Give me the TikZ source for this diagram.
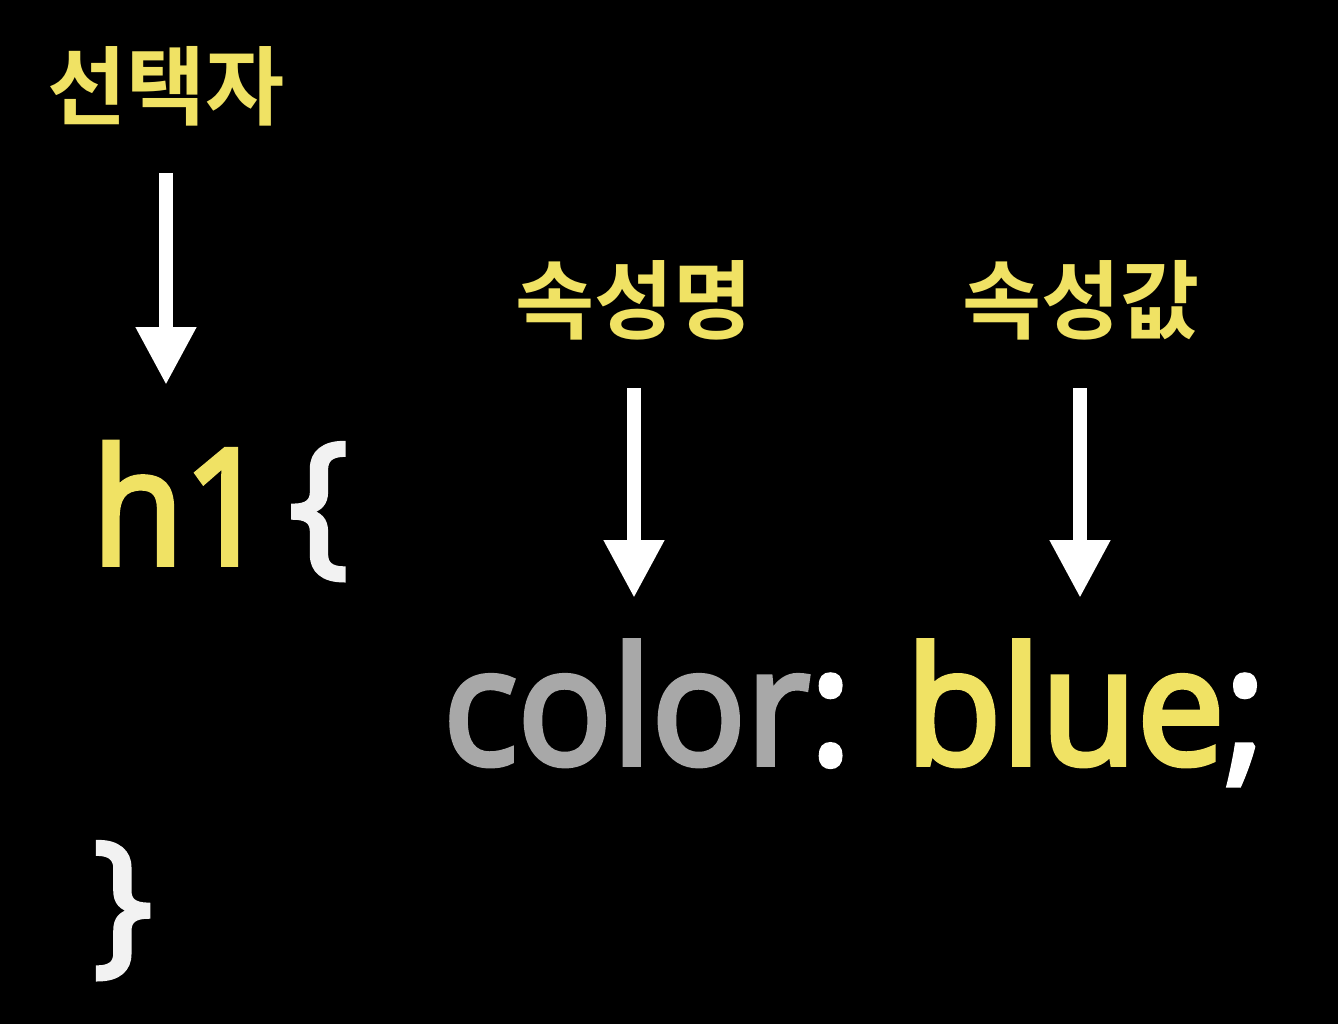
\documentclass[tikz,border=0pt]{standalone}
\usepackage{fontspec}
\usetikzlibrary{arrows.meta}
\newfontfamily\krfont{Noto Sans CJK KR}[BoldFont={* Bold}]
\newfontfamily\latsb{Open Sans}[FakeBold=3.5]
\definecolor{hlyellow}{RGB}{240,226,100}
\definecolor{codegray}{RGB}{168,168,168}
\definecolor{bracewhite}{RGB}{242,242,242}
\tikzset{
  krlabel/.style={text=hlyellow, inner sep=0pt, anchor=center, font=\krfont\bfseries\fontsize{86}{95}\selectfont},
  codetext/.style={inner sep=0pt, anchor=base west},
  downarrow/.style={draw=white, line width=14pt, -{Triangle[width=57pt,length=58pt]}}
}
\begin{document}
\begin{tikzpicture}[x=1pt,y=-1pt]
\fill[black] (0,0) rectangle (1338,1024);
\useasboundingbox (0,0) rectangle (1338,1024);
% labels
\node[krlabel] (sel) at (166,86) {선택자};
\node[krlabel] (pname) at (634,300) {속성명};
\node[krlabel] (pval) at (1081,300) {속성값};
% code
\node[codetext, text=hlyellow, font=\latsb\fontsize{160}{170}\selectfont] (h1) at (92,564) {\scalebox{0.93}[1]{h1}};
\node[codetext, text=bracewhite, font=\latsb\fontsize{156}{170}\selectfont] (lb) at (289,555) {\{};
\node[codetext, font=\latsb\fontsize{162}{170}\selectfont] (decl) at (443,764) {\scalebox{0.965}[1]{\textcolor{codegray}{color}\textcolor{white}{:} \textcolor{hlyellow}{blue}\textcolor{white}{;}}};
\node[codetext, text=bracewhite, font=\latsb\fontsize{156}{170}\selectfont] (rb) at (93,954) {\}};
% arrows
\coordinate (a1s) at (166,173);
\coordinate (a1e) at (166,385);
\coordinate (a2s) at (634,388);
\coordinate (a2e) at (634,598);
\coordinate (a3s) at (1080,388);
\coordinate (a3e) at (1080,598);
\draw[downarrow] (a1s) -- (a1e);
\draw[downarrow] (a2s) -- (a2e);
\draw[downarrow] (a3s) -- (a3e);
\end{tikzpicture}
\end{document}
